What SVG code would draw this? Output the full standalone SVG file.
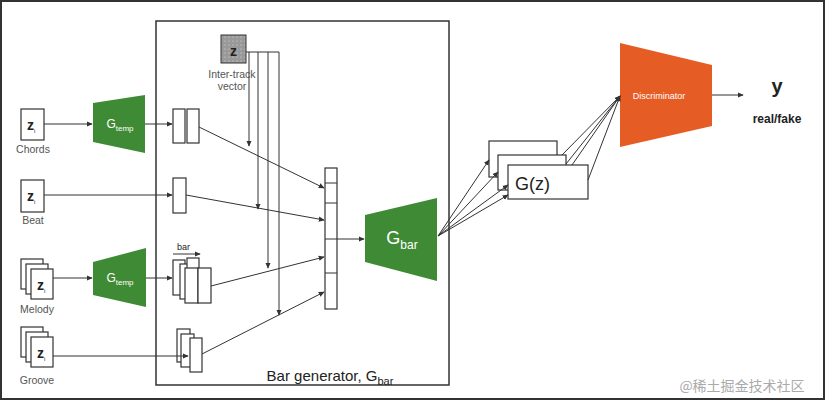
<svg xmlns="http://www.w3.org/2000/svg" width="826" height="402" viewBox="0 0 826 402">
<defs>
<marker id="ah" viewBox="0 0 8 8" refX="7" refY="4" markerWidth="6" markerHeight="6" orient="auto"><path d="M0,0.5 L8,4 L0,7.5 z" fill="#333"/></marker>
<pattern id="dots" width="4" height="4" patternUnits="userSpaceOnUse"><rect width="4" height="4" fill="#999"/><circle cx="1" cy="1" r="0.6" fill="#ddd"/></pattern>
</defs>
<style>
.b{fill:#fff;stroke:#333;stroke-width:1.2}
.l{fill:none;stroke:#333;stroke-width:1}
.a{fill:none;stroke:#333;stroke-width:1;marker-end:url(#ah)}
.t{font-family:"Liberation Sans",Arial,sans-serif;fill:#555;font-size:10.5px;text-anchor:middle}
.z{font-family:"Liberation Sans",Arial,sans-serif;font-weight:bold;font-size:14px;fill:#222}
.w{font-family:"Liberation Sans",Arial,sans-serif;fill:#fff;text-anchor:middle}
.g{fill:#3f8a35}
</style>
<rect x="1" y="1" width="823" height="398" fill="#fff" stroke="#333" stroke-width="2"/>
<g id="bargen"><rect x="156" y="21" width="293" height="364" fill="none" stroke="#333" stroke-width="1.5"/>
<text x="330" y="381" font-family="Liberation Sans,Arial,sans-serif" font-size="15" fill="#222" text-anchor="middle">Bar generator, G<tspan font-size="11" dy="4">bar</tspan></text></g>
<g id="intertrack"><rect x="221" y="35" width="25" height="28" fill="url(#dots)" stroke="#333"/><text x="233.5" y="56" class="z" font-size="16" text-anchor="middle">z</text>
<text class="t" x="232" y="78">Inter-track</text><text class="t" x="232" y="90">vector</text></g>
<g id="chords"><rect class="b" x="21" y="109" width="23" height="31"/><text class="z" x="27" y="130">z<tspan font-size="6" font-weight="normal" dy="3">i</tspan></text><text class="t" x="33" y="153">Chords</text></g>
<g id="beat"><rect class="b" x="21" y="180" width="23" height="32"/><text class="z" x="27" y="201">z<tspan font-size="6" font-weight="normal" dy="3">i</tspan></text><text class="t" x="33" y="224">Beat</text></g>
<g id="melody"><rect class="b" x="21" y="259" width="22" height="30"/><rect class="b" x="26" y="264" width="22" height="30"/><rect class="b" x="31" y="269" width="22" height="30"/><text class="z" x="37" y="290">z<tspan font-size="6" font-weight="normal" dy="3">i</tspan></text><text class="t" x="37" y="313">Melody</text></g>
<g id="groove"><rect class="b" x="21" y="327" width="22" height="30"/><rect class="b" x="26" y="332" width="22" height="30"/><rect class="b" x="31" y="337" width="22" height="30"/><text class="z" x="37" y="358">z<tspan font-size="6" font-weight="normal" dy="3">i</tspan></text><text class="t" x="37" y="384">Groove</text></g>
<g id="gtemp1"><path class="g" d="M93,103 L145,95 L145,153 L93,142 z"/><text class="w" x="120" y="128" font-size="12">G<tspan font-size="8" dy="3">temp</tspan></text></g>
<g id="gtemp2"><path class="g" d="M93,262 L146,248 L146,307 L93,295 z"/><text class="w" x="120" y="282" font-size="12">G<tspan font-size="8" dy="3">temp</tspan></text></g>
<g id="chordsout"><rect class="b" x="173" y="109" width="12" height="34"/><rect class="b" x="187" y="109" width="12" height="34"/></g>
<g id="beatout"><rect class="b" x="173" y="178" width="13" height="35"/></g>
<g id="melodyout"><rect class="b" x="173" y="260" width="12" height="35"/><rect class="b" x="180" y="264" width="12" height="35"/><rect class="b" x="187" y="258" width="12" height="37"/><rect class="b" x="185" y="268" width="13" height="35"/><rect class="b" x="198" y="268" width="13" height="35"/>
<text x="177" y="250" font-family="Liberation Sans,Arial,sans-serif" font-size="9" fill="#222">bar</text><line class="a" x1="173" y1="254" x2="200" y2="254"/></g>
<g id="grooveout"><rect class="b" x="177" y="329" width="13" height="33"/><rect class="b" x="181" y="334" width="13" height="33"/><rect class="b" x="190" y="338" width="12" height="34"/></g>
<g id="concat"><rect class="b" x="325" y="168" width="12" height="141"/><path class="l" d="M325,183 H337 M325,203 H337 M325,239 H337 M325,273 H337"/></g>
<g id="gbar"><path class="g" d="M365,215 L437,198 L437,281 L365,262 z"/><text class="w" x="402" y="244" font-size="18">G<tspan font-size="12" dy="5">bar</tspan></text></g>
<g id="gz"><rect class="b" x="489" y="141" width="68" height="36"/><rect class="b" x="498" y="155" width="68" height="35"/><rect class="b" x="508" y="165" width="80" height="34"/><text x="515" y="190" font-family="Liberation Sans,Arial,sans-serif" font-size="18" fill="#222">G(z)</text></g>
<g id="disc"><path d="M620,43 L712,65 L712,126 L620,147 z" fill="#e55c25"/><text class="w" x="659" y="99" font-size="9">Discriminator</text></g>
<g id="out"><text x="777" y="93" font-family="Liberation Sans,Arial,sans-serif" font-size="20" font-weight="bold" fill="#222" text-anchor="middle">y</text><text x="777" y="123" font-family="Liberation Sans,Arial,sans-serif" font-size="12" font-weight="bold" fill="#222" text-anchor="middle">real/fake</text></g>
<g id="connectors">
<line class="a" x1="44" y1="124" x2="92" y2="124"/>
<line class="a" x1="145" y1="124" x2="172" y2="124"/>
<line class="a" x1="44" y1="195" x2="172" y2="195"/>
<line class="a" x1="53" y1="278" x2="92" y2="278"/>
<line class="a" x1="146" y1="278" x2="172" y2="278"/>
<line class="a" x1="53" y1="356" x2="188" y2="356"/>
<line class="a" x1="199" y1="127" x2="324" y2="188"/>
<line class="a" x1="186" y1="195" x2="324" y2="220"/>
<line class="a" x1="211" y1="286" x2="324" y2="257"/>
<line class="a" x1="202" y1="354" x2="324" y2="292"/>
<path class="l" d="M246,52 H279"/>
<line class="a" x1="249" y1="52" x2="249" y2="146"/>
<line class="a" x1="258" y1="52" x2="258" y2="209"/>
<line class="a" x1="268" y1="52" x2="268" y2="268"/>
<line class="a" x1="279" y1="52" x2="279" y2="315" stroke="#888"/>
<line class="a" x1="337" y1="239" x2="364" y2="239"/>
<line class="a" x1="438" y1="236" x2="489" y2="160"/>
<line class="a" x1="438" y1="236" x2="498" y2="172"/>
<line class="a" x1="438" y1="236" x2="508" y2="185"/>
<line class="a" x1="438" y1="236" x2="508" y2="195"/>
<line class="a" x1="562" y1="155" x2="620" y2="96"/>
<line class="a" x1="566" y1="164" x2="620" y2="96"/>
<line class="a" x1="572" y1="165" x2="620" y2="96"/>
<line class="a" x1="588" y1="180" x2="620" y2="96"/>
<line class="a" x1="712" y1="95" x2="743" y2="95"/>
</g>
<text x="742" y="391" font-family="Noto Sans CJK SC,sans-serif" font-size="14" fill="#aaa" text-anchor="middle">@稀土掘金技术社区</text>
</svg>
